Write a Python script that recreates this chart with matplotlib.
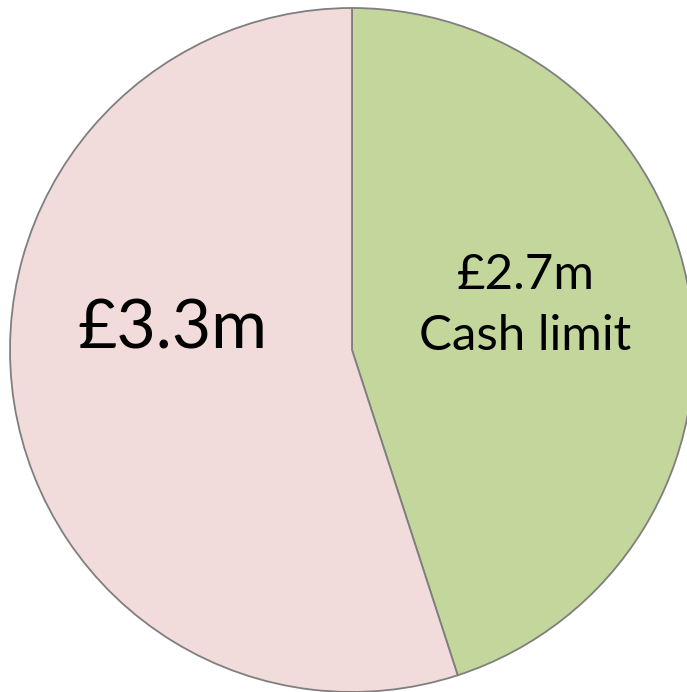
import matplotlib.pyplot as plt

labels = ['£2.7m\nCash limit', '£3.3m']
values = [2.7, 3.3]
colors = ['#C3D69B', '#F2DCDB']

fig = plt.figure(figsize = (6.87, 6.92), dpi = 100)
ax = fig.add_axes([0, 0, 1, 1])

wedges, _ = ax.pie(values, colors = colors, startangle = 90, counterclock = False,
                   wedgeprops = {'edgecolor': '#7F7F7F', 'linewidth': 1.3})

# label positions inside each slice
ax.text(0.507, 0.13, labels[0], ha = 'center', va = 'center', fontsize = 35.5,
        family = 'Lato', linespacing = 1.45)
ax.text(-0.526, 0.06, labels[1], ha = 'center', va = 'center', fontsize = 49, family = 'Lato')

ax.set_xlim(-352 / 342, 335 / 342)
ax.set_ylim(-342 / 342, 350 / 342)
ax.set_aspect('auto')
ax.axis('off')

fig.savefig('out.png', dpi = 100)
